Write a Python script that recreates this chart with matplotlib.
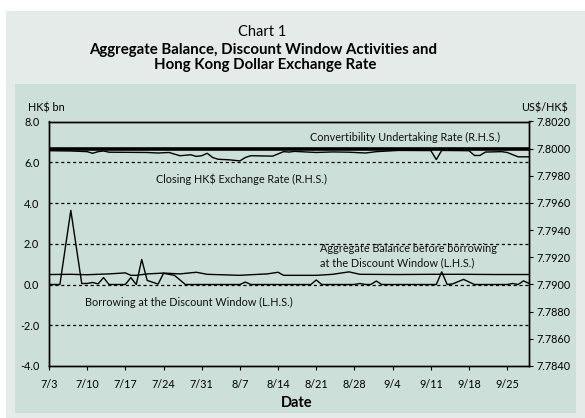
import matplotlib
matplotlib.use("Agg")
import matplotlib.pyplot as plt
from matplotlib.patches import Rectangle
import pandas as pd

YEAR = 2000

# ---- data (vertices) ----
borrow_dates = ["7/3", "7/5", "7/7", "7/9", "7/10", "7/11", "7/12", "7/13", "7/14", "7/17",
                "7/18", "7/19", "7/20", "7/21", "7/23", "7/24", "7/26", "7/28", "8/7", "8/8",
                "8/9", "8/20", "8/21", "8/22", "8/28", "8/29", "8/30", "8/31", "9/1", "9/2",
                "9/12", "9/13", "9/14", "9/15", "9/17", "9/19", "9/25", "9/26", "9/27", "9/28", "9/29"]
borrow_vals = [0.0, 0.0, 3.64, 0.05, 0.05, 0.10, 0.03, 0.34, 0.0, 0.0,
               0.34, 0.0, 1.23, 0.20, 0.02, 0.55, 0.45, 0.0, 0.0, 0.12,
               0.0, 0.0, 0.22, 0.0, 0.0, 0.05, 0.0, 0.0, 0.17, 0.0,
               0.0, 0.62, 0.0, 0.03, 0.25, 0.0, 0.0, 0.05, 0.0, 0.18, 0.05]

agg_dates = ["7/3", "7/7", "7/10", "7/14", "7/17", "7/18", "7/19", "7/21", "7/24", "7/27",
             "7/30", "8/1", "8/7", "8/9", "8/12", "8/14", "8/15", "8/21", "8/24", "8/27",
             "8/29", "9/5", "9/11", "9/17", "9/23", "9/29"]
agg_vals = [0.49, 0.50, 0.48, 0.52, 0.57, 0.45, 0.45, 0.52, 0.56, 0.52,
            0.60, 0.50, 0.45, 0.48, 0.52, 0.60, 0.45, 0.45, 0.50, 0.62,
            0.50, 0.49, 0.50, 0.50, 0.49, 0.49]

fx_dates = ["7/3", "7/7", "7/10", "7/11", "7/12", "7/13", "7/14", "7/21", "7/23", "7/25",
            "7/26", "7/27", "7/29", "7/30", "7/31", "8/1", "8/2", "8/3", "8/5", "8/7",
            "8/8", "8/9", "8/13", "8/15", "8/16", "8/17", "8/21", "8/24", "8/27", "8/30",
            "9/1", "9/5", "9/11", "9/12", "9/13", "9/18", "9/19", "9/20", "9/21", "9/24",
            "9/25", "9/27", "9/29"]
fx_vals = [7.79985, 7.79983, 7.79978, 7.79966, 7.79978, 7.79983, 7.79974, 7.79972, 7.79968, 7.79972,
           7.79960, 7.79948, 7.79955, 7.79943, 7.79948, 7.79966, 7.79935, 7.79922, 7.79918, 7.79910,
           7.79935, 7.79948, 7.79945, 7.79978, 7.79975, 7.79980, 7.79972, 7.79976, 7.79974, 7.79968,
           7.79978, 7.79987, 7.79986, 7.79920, 7.79987, 7.79985, 7.79950, 7.79950, 7.79975, 7.79978,
           7.79972, 7.79940, 7.79940]

cu_rate = 7.8000
period = ["7/3", "9/29"]

lhs_ticks = [-4.0, -2.0, 0.0, 2.0, 4.0, 6.0, 8.0]
rhs_ticks = [7.7840, 7.7860, 7.7880, 7.7900, 7.7920, 7.7940, 7.7960, 7.7980, 7.8000, 7.8020]
x_tick_labels = ["7/3", "7/10", "7/17", "7/24", "7/31", "8/7", "8/14", "8/21", "8/28",
                 "9/4", "9/11", "9/18", "9/25"]


def to_dt(lst):
    return pd.to_datetime([f"{YEAR}/{s}" for s in lst], format="%Y/%m/%d")


plt.rcParams['font.family'] = ['Lato', 'DejaVu Sans']

W, H = 585, 418
fig = plt.figure(figsize=(W / 100, H / 100), dpi=100)
fig.patch.set_facecolor("white")

outer = "#e5ebe9"
inner = "#cddfd9"
fig.patches.append(Rectangle((6 / W, 0), (W - 6) / W, 1 - 11 / H, transform=fig.transFigure,
                             facecolor=outer, edgecolor="none", zorder=-10))
fig.patches.append(Rectangle((15 / W, 1 - 413 / H), (576 - 15) / W, (413 - 84) / H,
                             transform=fig.transFigure, facecolor=inner, edgecolor="none", zorder=-9))

ax = fig.add_axes([49 / W, 1 - 366 / H, 480 / W, 244.5 / H])
ax.set_facecolor("none")
ax2 = ax.twinx()

xmin, xmax = to_dt(period)
ax.set_xlim(xmin, xmax)
ax.set_ylim(-4, 8)
ax2.set_ylim(7.7840, 7.8020)

# gridlines
for v in lhs_ticks[1:-1]:
    ax.axhline(v, color="black", lw=0.9, ls=(0, (2.5, 2.2)), zorder=1)

ax.plot(to_dt(agg_dates), agg_vals, color="black", lw=1.0, zorder=3)
ax.plot(to_dt(borrow_dates), borrow_vals, color="black", lw=1.0, zorder=3)
ax2.plot(to_dt(fx_dates), fx_vals, color="black", lw=1.0, zorder=3)
ax2.plot(to_dt(period), [cu_rate, cu_rate], color="black", lw=2.6, zorder=4)

ax.set_yticks(lhs_ticks)
ax.set_yticklabels([f"{v:.1f}" for v in lhs_ticks])
ax2.set_yticks(rhs_ticks)
ax2.set_yticklabels([f"{v:.4f}" for v in rhs_ticks])
ax.set_xticks(to_dt(x_tick_labels))
ax.set_xticklabels(x_tick_labels)

ax.tick_params(axis="y", length=0, pad=7, labelsize=7.8)
ax.tick_params(axis="x", length=3, width=0.8, direction="out", pad=6, labelsize=7.8)
ax2.tick_params(axis="y", length=3, width=0.8, direction="out", pad=2, labelsize=7.8)
for a in (ax, ax2):
    for s in a.spines.values():
        s.set_linewidth(1.0)
        s.set_color("black")

def fx(x): return x / W
def fy(y): return 1 - y / H

tk = dict(fontsize=7.8, color="#111111")
fig.text(fx(405), fy(137.7), "Convertibility Undertaking Rate (R.H.S.)", ha="center", va="center", **tk)
fig.text(fx(241), fy(179), "Closing HK\\$ Exchange Rate (R.H.S.)", ha="center", va="center", **tk)
fig.text(fx(320), fy(256), "Aggregate Balance before borrowing\nat the Discount Window (L.H.S.)",
         ha="left", va="center", linespacing=1.35, **tk)
fig.text(fx(189.3), fy(302.3), "Borrowing at the Discount Window (L.H.S.)", ha="center", va="center", **tk)

fig.text(fx(28), fy(108.3), "HK\\$ bn", ha="left", va="center", fontsize=7.8)
fig.text(fx(568.5), fy(108.3), "US\\$/HK\\$", ha="right", va="center", fontsize=7.8)
fig.text(fx(297), fy(402.7), "Date", ha="center", va="center", fontsize=10.5, fontweight="bold")

fig.text(fx(262), fy(31.7), "Chart 1", ha="center", va="center", fontsize=10.5)
fig.text(fx(263), fy(50), "Aggregate Balance, Discount Window Activities and",
         ha="center", va="center", fontsize=10.8, fontweight="bold")
fig.text(fx(265), fy(65.5), "Hong Kong Dollar Exchange Rate",
         ha="center", va="center", fontsize=10.8, fontweight="bold")

fig.savefig("out.png", dpi=100, facecolor=fig.get_facecolor())
